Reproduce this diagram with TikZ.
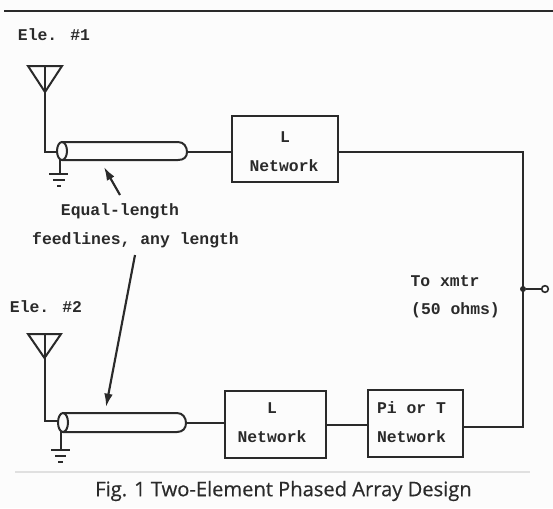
\documentclass[tikz,border=0pt]{standalone}
\usepackage{fontspec}
\setmainfont{Open Sans}[FakeBold=0.4]
\newfontfamily\typer{Liberation Mono}[Scale=1]
\usetikzlibrary{arrows.meta}
\definecolor{ink}{HTML}{2A2A2A}
\tikzset{
  wire/.style={draw=ink,line width=1.5pt},
  thin wire/.style={draw=ink,line width=1.1pt},
  netbox/.style={draw=ink,line width=1.5pt,minimum width=#1,minimum height=50pt,inner sep=0pt},
  lbl/.style={text=ink,font=\typer\bfseries\fontsize{12.3}{14}\selectfont,inner sep=0pt,anchor=center},
  captiontext/.style={text=ink,font=\fontsize{15.1}{18}\selectfont,inner sep=0pt,anchor=center},
  terminal/.style={circle,draw=ink,line width=1.2pt,fill=white,minimum size=5pt,inner sep=0pt},
  junction/.style={circle,fill=ink,minimum size=4.5pt,inner sep=0pt},
  pointer/.style={draw=ink,line width=1.6pt,-{Latex[length=10pt,width=6.5pt]}}
}
\begin{document}
\begin{tikzpicture}[x=0.75pt,y=-0.75pt]
\useasboundingbox (0,0) rectangle (553,508);
\fill[white!99!black] (0,0) rectangle (553,508);
% top rule and faint bottom rule
\coordinate (ruleL) at (4,10.5); \coordinate (ruleR) at (553,10.5);
\draw[ink,line width=1.5pt] (ruleL) -- (ruleR);
\coordinate (faintL) at (15,472); \coordinate (faintR) at (530,472);
\draw[black!12,line width=0.8pt] (faintL) -- (faintR);
% boxes
\node[netbox=79.5pt,minimum height=49.5pt] (L1) at (285,149) {};
\node[netbox=75.75pt] (L2) at (275.5,424.5) {};
\node[netbox=71.25pt] (PT) at (415.5,423.5) {};
% box text
\node[lbl] (L1a) at (285,137) {L};
\node[lbl] (L1b) at (284,166) {Network};
\node[lbl] (L2a) at (272,408) {L};
\node[lbl] (L2b) at (272,437) {Network};
\node[lbl] (PTa) at (411.5,408) {Pi or T};
\node[lbl] (PTb) at (411.5,437) {Network};
% labels
\node[lbl] (e1) at (54,35) {Ele. \#1};
\node[lbl] (e2) at (46,307) {Ele. \#2};
\node[lbl] (eq) at (120,211) {Equal-length};
\node[lbl] (fl) at (135.5,240) {feedlines, any length};
\node[lbl] (tx) at (445,281) {To xmtr};
\node[lbl] (oh) at (455.5,310) {(50 ohms)};
\node[captiontext] (fig) at (283.5,491) {Fig. 1 Two-Element Phased Array Design};
% element 1
\coordinate (a1l) at (28,66); \coordinate (a1r) at (62,66); \coordinate (a1t) at (45,66);
\coordinate (a1p) at (45,92); \coordinate (a1b) at (45,152); \coordinate (c1) at (58,152);
\draw[wire,line join=miter] (a1l) -- (a1r) -- (a1p) -- cycle;
\draw[wire] (a1t) -- (a1b) -- (c1);
\draw[wire] (62,142) -- (178,142) .. controls (184,142) and (187,147) .. (187,152)
            .. controls (187,157) and (184,160) .. (178,160) -- (62,160);
\draw[wire] (62,151) ellipse [x radius=5,y radius=9];
\coordinate (c1r) at (187,152);
\draw[wire] (c1r) -- (L1.west |- c1r);
% ground 1
\coordinate (g1t) at (60,160); \coordinate (g1b) at (60,174);
\draw[wire] (g1t) -- (g1b);
\draw[wire] (49,174) -- (68,174);
\draw[wire] (53,180) -- (65,180);
\draw[wire] (57,186) -- (61,186);
% element 2
\coordinate (a2l) at (28,334); \coordinate (a2r) at (61,334); \coordinate (a2t) at (44.5,334);
\coordinate (a2p) at (44.5,358); \coordinate (a2b) at (44.5,421); \coordinate (c2) at (58,421);
\draw[wire,line join=miter] (a2l) -- (a2r) -- (a2p) -- cycle;
\draw[wire] (a2t) -- (a2b) -- (c2);
\draw[wire] (63,413) -- (177,413) .. controls (183,413) and (186,418) .. (186,423)
            .. controls (186,428) and (183,432) .. (177,432) -- (63,432);
\draw[wire] (63,422.5) ellipse [x radius=5,y radius=9.5];
\coordinate (c2r) at (186,423);
\draw[wire] (c2r) -- (L2.west |- c2r);
% ground 2
\coordinate (g2t) at (61,432); \coordinate (g2b) at (61,450);
\draw[wire] (g2t) -- (g2b);
\draw[wire] (51,450) -- (70,450);
\draw[wire] (55,456) -- (66,456);
\draw[wire] (58,462) -- (63,462);
% network wiring
\coordinate (bus) at (523,289);
\coordinate (busT) at (523,152);
\coordinate (busB) at (523,427);
\draw[wire] (L1.east |- busT) -- (busT) -- (busB) -- (PT.east |- busB);
\coordinate (mid) at (326,425);
\draw[wire] (L2.east |- mid) -- (PT.west |- mid);
\node[junction] (j) at (bus) {};
\node[terminal] (t) at (545,289) {};
\draw[thin wire] (j) -- (t);
% pointers
\coordinate (p1s) at (120,195); \coordinate (p1e) at (104,167);
\coordinate (p2s) at (135,255); \coordinate (p2e) at (106,407);
\draw[pointer] (p1s) -- (p1e);
\draw[pointer] (p2s) -- (p2e);
\end{tikzpicture}
\end{document}
